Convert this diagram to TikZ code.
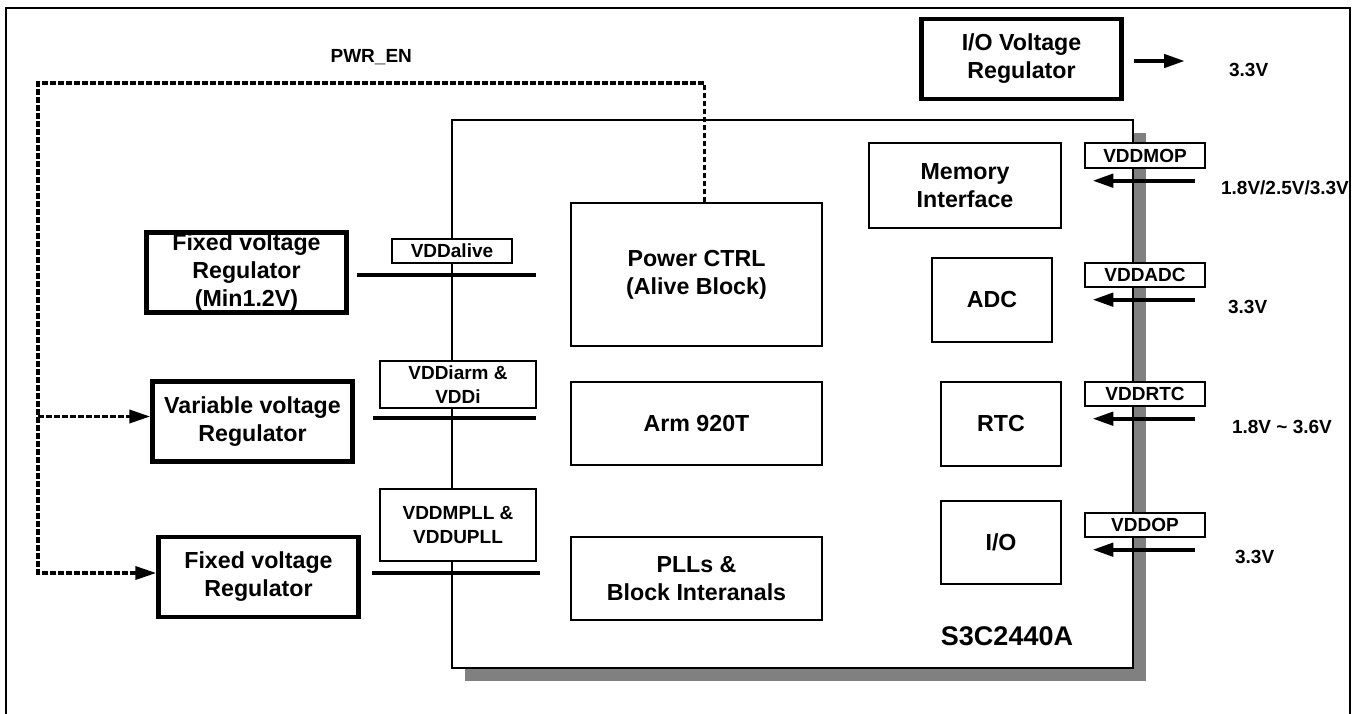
\documentclass[tikz,border=0pt]{standalone}
\usepackage{fontspec}
\setmainfont{Liberation Sans}
\usetikzlibrary{positioning,arrows.meta,calc,shadows}

\begin{document}
\begin{tikzpicture}[x=0.5pt,y=-0.5pt,>={Triangle[length=10.5pt,width=6.5pt]},
  big/.style={font=\fontsize{11.6}{14}\selectfont\bfseries},
  small/.style={font=\fontsize{9.5}{12}\selectfont\bfseries},
  reg/.style={draw,line width=2.2pt,inner sep=0pt,align=center,big,minimum width=100pt,minimum height=40pt},
  blk/.style={draw,line width=0.7pt,inner sep=0pt,align=center,big},
  tag/.style={draw,fill=white,line width=0.7pt,inner sep=0pt,align=center,small,minimum width=60pt,minimum height=12pt},
  pwr/.style={line width=2pt},
  supply/.style={line width=2.2pt,->},
  enline/.style={line width=1.8pt,dash pattern=on 2.8pt off 1.2pt,->}]
\useasboundingbox (0,0) rectangle (1352,713);
\draw[line width=1pt] (6,8) rectangle (1350,740);

% chip outline with its shadow
\node[draw,fill=white,line width=0.7pt,minimum width=340.5pt,minimum height=274pt,
  drop shadow={shadow xshift=6.5pt,shadow yshift=-6.5pt,opacity=1,fill=black!50}] (chip) at (792.5,394) {};
\node[font=\fontsize{13.5}{16}\selectfont\bfseries] (chipname) at (1007,636) {S3C2440A};

% inner blocks
\node[blk,minimum width=125.5pt,minimum height=71.5pt] (power) at (696.5,274.5) {Power CTRL\\(Alive Block)};
\node[blk,minimum width=125.5pt,minimum height=41.5pt] (arm) at (696.5,423.5) {Arm 920T};
\node[blk,minimum width=125.5pt,minimum height=41.5pt] (pll) at (696.5,578.5) {PLLs \&\\Block Interanals};
\node[blk,minimum width=96pt,minimum height=42.5pt] (mem) at (965,185.5) {Memory\\Interface};
\node[blk,minimum width=60pt,minimum height=42pt] (adc) at (992,300) {ADC};
\node[blk,minimum width=60pt,minimum height=42pt] (rtc) at (1001,424) {RTC};
\node[blk,minimum width=60pt,minimum height=41.5pt] (io) at (1001,542.5) {I/O};

% regulators
\node[reg] (fixreg1) at (246.5,272.5) {Fixed voltage\\Regulator\\(Min1.2V)};
\node[reg] (varreg) at (252.5,421.5) {Variable voltage\\Regulator};
\node[reg] (fixreg2) at (258.5,577) {Fixed voltage\\Regulator};
\node[reg] (ioreg) at (1021.5,59) {I/O Voltage\\Regulator};

% supply lines on the left
\draw[pwr] ([shift={(4pt,-1.25pt)}]fixreg1.east) -- ($(fixreg1.east -| power.west)+(-17pt,-1.25pt)$);
\draw[pwr] ([shift={(9pt,1.75pt)}]varreg.east) -- ($(varreg.east -| power.west)+(-17pt,1.75pt)$);
\draw[pwr] ([shift={(5.75pt,2pt)}]fixreg2.east) -- ($(fixreg2.east -| power.west)+(-15pt,2pt)$);
\node[tag] (vddalive) at (452,251) {VDDalive};
\node[tag,minimum width=78pt,minimum height=23.5pt] (vddarm) at (458,384.5) {VDDiarm \&\\VDDi};
\node[tag,minimum width=78pt,minimum height=36pt] (vddpll) at (458,525) {VDDMPLL \&\\VDDUPLL};

% supply pins on the right
\node[tag,minimum height=12.5pt] (vddmop) at (1145,155.5) {VDDMOP};
\node[tag] (vddadc) at (1145,275) {VDDADC};
\node[tag] (vddrtc) at (1145,394) {VDDRTC};
\node[tag] (vddop) at (1145,525) {VDDOP};
\draw[supply] ([shift={(-5.5pt,-6pt)}]vddmop.south east) -- ([shift={(4pt,-6pt)}]vddmop.south west);
\draw[supply] ([shift={(-5.5pt,-6pt)}]vddadc.south east) -- ([shift={(4pt,-6pt)}]vddadc.south west);
\draw[supply] ([shift={(-5.5pt,-6pt)}]vddrtc.south east) -- ([shift={(4pt,-6pt)}]vddrtc.south west);
\draw[supply] ([shift={(-5.5pt,-6pt)}]vddop.south east) -- ([shift={(4pt,-6pt)}]vddop.south west);
\node[small,anchor=west] (vmop) at (1214,188) {1.8V/2.5V/3.3V};
\node[small,anchor=west] (vadc) at (1221,307) {3.3V};
\node[small,anchor=west] (vrtc) at (1225,427) {1.8V \textasciitilde\ 3.6V};
\node[small,anchor=west] (vop) at (1228,557) {3.3V};

% I/O regulator output
\coordinate (ioout) at (1185,61);
\draw[supply] ([shift={(5pt,-1pt)}]ioreg.east) -- (ioout);
\node[small,anchor=west] (vio) at (1222,70) {3.3V};

% power enable
\coordinate (enTL) at (38,83);
\coordinate (vrin) at ([yshift=2.5pt]varreg.west);
\draw[enline] ([xshift=4pt]power.north) |- (enTL) node[pos=0.75,above=5pt,small]{PWR\_EN} |- ([yshift=2pt]fixreg2.west);
\draw[enline] (enTL |- vrin) -- (vrin);
\end{tikzpicture}
\end{document}
